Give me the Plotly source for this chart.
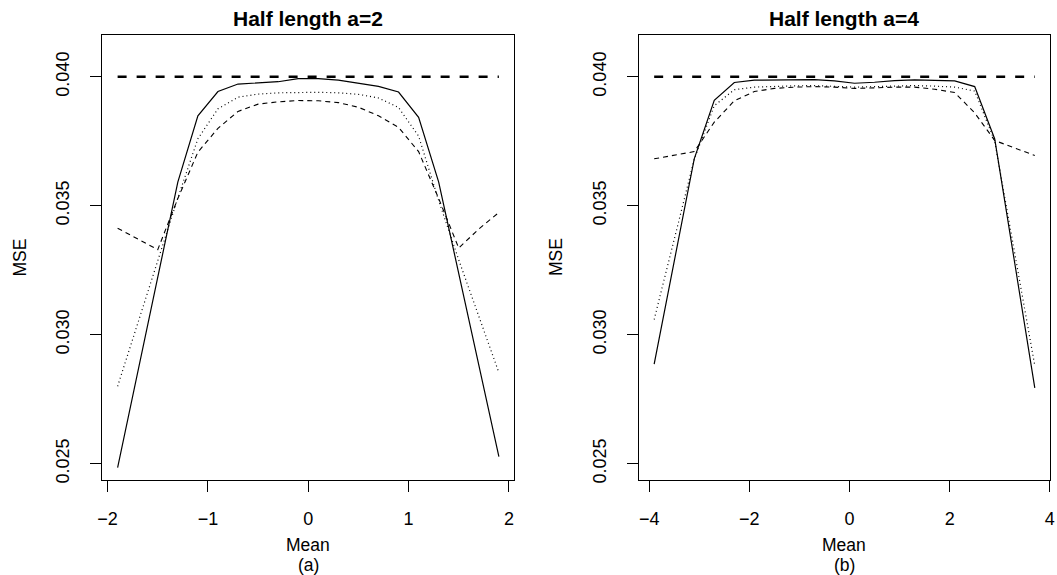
import plotly.graph_objects as go

W, H = 1057, 575

# ---- data ----
x_a2 = [-1.9, -1.7, -1.5, -1.3, -1.1, -0.9, -0.7, -0.5, -0.3, -0.1,
        0.1, 0.3, 0.5, 0.7, 0.9, 1.1, 1.3, 1.5, 1.7, 1.9]
solid_a2 = [0.02485, 0.02854, 0.03223, 0.03592, 0.03849, 0.03943, 0.03972, 0.03977, 0.03981, 0.03993,
            0.03993, 0.03987, 0.03975, 0.03963, 0.03941, 0.03843, 0.03592, 0.03237, 0.02882, 0.02527]
dotted_a2 = [0.02800, 0.03044, 0.03287, 0.03530, 0.03760, 0.03876, 0.03921, 0.03933, 0.03938, 0.03940,
             0.03940, 0.03938, 0.03932, 0.03918, 0.03881, 0.03770, 0.03520, 0.03290, 0.03070, 0.02853]
dashed_a2 = [0.03413, 0.03370, 0.03330, 0.03528, 0.03708, 0.03800, 0.03866, 0.03894, 0.03903, 0.03908,
             0.03907, 0.03900, 0.03882, 0.03849, 0.03804, 0.03710, 0.03528, 0.03336, 0.03410, 0.03474]
ref_a2_x = [-1.9, 1.9]

x_a4 = [-3.9, -3.5, -3.1, -2.7, -2.3, -1.9, -1.5, -1.1, -0.7, -0.3,
        0.1, 0.5, 0.9, 1.3, 1.7, 2.1, 2.5, 2.9, 3.3, 3.7]
solid_a4 = [0.02886, 0.03284, 0.03682, 0.03909, 0.03978, 0.03987, 0.03988, 0.03990, 0.03989, 0.03984,
            0.03975, 0.03979, 0.03985, 0.03988, 0.03985, 0.03984, 0.03962, 0.03759, 0.03277, 0.02794]
dotted_a4 = [0.03059, 0.03370, 0.03680, 0.03888, 0.03950, 0.03960, 0.03963, 0.03965, 0.03966, 0.03963,
             0.03960, 0.03962, 0.03965, 0.03966, 0.03964, 0.03960, 0.03945, 0.03750, 0.03315, 0.02880]
dashed_a4 = [0.03682, 0.03696, 0.03710, 0.03824, 0.03907, 0.03943, 0.03955, 0.03960, 0.03962, 0.03960,
             0.03955, 0.03957, 0.03960, 0.03960, 0.03952, 0.03939, 0.03860, 0.03753, 0.03724, 0.03695]
ref_a4_x = [-3.9, 3.7]
ref_y = [0.040, 0.040]

titles = ["Half length a=2", "Half length a=4"]
sublabels = ["(a)", "(b)"]
xticks_a2 = [-2, -1, 0, 1, 2]
xticks_a4 = [-4, -2, 0, 2, 4]
yticks = [0.025, 0.030, 0.035, 0.040]
ytick_text = ["0.025", "0.030", "0.035", "0.040"]

FONT = "Liberation Sans, Arial, Helvetica, sans-serif"

fig = go.Figure()

def add_panel(xs, solid, dotted, dashed, refx, xa, ya):
    fig.add_trace(go.Scatter(x=refx, y=ref_y, mode="lines", xaxis=xa, yaxis=ya,
                             line=dict(color="black", width=2.6, dash="9px,10px")))
    fig.add_trace(go.Scatter(x=xs, y=dashed, mode="lines", xaxis=xa, yaxis=ya,
                             line=dict(color="black", width=1.1, dash="5px,4px")))
    fig.add_trace(go.Scatter(x=xs, y=dotted, mode="lines", xaxis=xa, yaxis=ya,
                             line=dict(color="black", width=1.2, dash="1px,3px")))
    fig.add_trace(go.Scatter(x=xs, y=solid, mode="lines", xaxis=xa, yaxis=ya,
                             line=dict(color="black", width=1.2)))

add_panel(x_a2, solid_a2, dotted_a2, dashed_a2, ref_a2_x, "x", "y")
add_panel(x_a4, solid_a4, dotted_a4, dashed_a4, ref_a4_x, "x2", "y2")

# plot boxes in pixels
box1 = (98.3, 514.0)
box2 = (640.0, 1055.0)
top_px, bot_px = 34.7, 482.7
ydom = [1 - bot_px / H, 1 - top_px / H]

axis_common = dict(showline=True, linecolor="black", linewidth=1, mirror=True,
                   ticks="outside", ticklen=11, tickwidth=1, tickcolor="black",
                   showgrid=False, zeroline=False,
                   tickfont=dict(family=FONT, size=18, color="black"))

fig.update_layout(
    width=W, height=H, margin=dict(l=0, r=0, t=0, b=0),
    paper_bgcolor="white", plot_bgcolor="white", showlegend=False,
    xaxis=dict(domain=[box1[0] / W, box1[1] / W], range=[-2.052, 2.052],
               tickvals=xticks_a2, anchor="y", ticklabelstandoff=11, **axis_common),
    yaxis=dict(domain=ydom, range=[0.02436, 0.04164], tickvals=yticks, ticktext=ytick_text,
               tickangle=-90, anchor="x", ticklabelstandoff=14, **axis_common),
    xaxis2=dict(domain=[box2[0] / W, box2[1] / W], range=[-4.204, 4.004],
                tickvals=xticks_a4, anchor="y2", ticklabelstandoff=11,
                ticklabeloverflow="allow", **axis_common),
    yaxis2=dict(domain=ydom, range=[0.02436, 0.04164], tickvals=yticks, ticktext=ytick_text,
                tickangle=-90, anchor="x2", ticklabelstandoff=14, **axis_common),
)

def ann(text, xpx, ypx, size, bold=False, angle=0):
    fig.add_annotation(text=("<b>%s</b>" % text) if bold else text,
                       x=xpx / W, y=1 - ypx / H, xref="paper", yref="paper",
                       xanchor="center", yanchor="middle", showarrow=False, textangle=angle,
                       font=dict(family=FONT, size=size, color="black"))

for i, (b, t, s) in enumerate(zip([box1, box2], titles, sublabels)):
    cx = (b[0] + b[1]) / 2
    ann(t, cx, 18.5, 21, bold=True)
    ann("Mean", cx, 548, 17.5)
    ann(s, cx, 568, 17.5)
    ann("MSE", b[0] - 83, (top_px + bot_px) / 2, 17.5, angle=-90)

fig.write_html("out.html", config={"displayModeBar": False},
               post_script="document.body.style.margin='0';document.body.style.overflow='hidden';")
